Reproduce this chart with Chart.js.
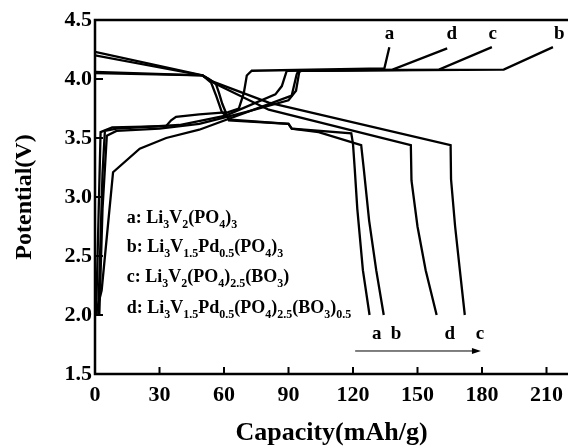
<!DOCTYPE html>
<html>
<head>
<meta charset="utf-8">
<script src="https://cdn.jsdelivr.net/npm/chart.js@4.4.1/dist/chart.umd.min.js"></script>
<style>
  html, body { margin: 0; padding: 0; background: #fff; }
  #wrap { width: 571px; height: 446px; position: relative; }
</style>
</head>
<body>
<div id="wrap"><canvas id="c"></canvas></div>
<script>
// tick values
const capTicks = [0, 30, 60, 90, 120, 150, 180, 210]
const potTicks = [1.5, 2.0, 2.5, 3.0, 3.5, 4.0, 4.5]

// charge curves [capacity, potential]
const chargeA = [[0.5, 2.0], [1.2, 2.5], [2.0, 3.1], [2.6, 3.55], [8, 3.59], [33, 3.6], [35.4, 3.65], [37.7, 3.68], [48.5, 3.7], [62, 3.72], [66.9, 3.75], [69.2, 3.88], [70.6, 4.03], [72.9, 4.07], [134.6, 4.09], [136.9, 4.27]]
const chargeB = [[2.0, 2.0], [3.5, 2.9], [5.5, 3.52], [10, 3.56], [30, 3.58], [48.5, 3.62], [70, 3.72], [90, 3.82], [93.5, 3.9], [95, 4.06], [96, 4.07], [190.1, 4.08], [213, 4.27]]
const chargeC = [[0.3, 2.0], [3.1, 2.21], [8.4, 3.21], [20.8, 3.41], [33.1, 3.5], [48.5, 3.57], [91.5, 3.86], [93.8, 4.04], [94.6, 4.07], [160, 4.08], [184.6, 4.27]]
const chargeD = [[1.5, 2.0], [2.5, 2.6], [3.5, 3.2], [4.6, 3.56], [10, 3.58], [39.2, 3.61], [60.8, 3.69], [83.9, 3.87], [86.9, 3.94], [89.2, 4.07], [138.4, 4.08], [163.8, 4.26]]

// discharge curves
const dischA = [[0, 4.23], [50, 4.03], [53, 4.0], [56.2, 3.96], [57.7, 3.88], [59.2, 3.79], [62.3, 3.65], [90, 3.62], [91.5, 3.58], [119.2, 3.54], [120, 3.45], [120.8, 3.24], [122, 2.9], [124.6, 2.38], [127.7, 2.0]]
const dischB = [[0, 4.2], [50, 4.03], [54, 3.97], [56.5, 3.85], [59, 3.72], [63, 3.655], [90, 3.62], [91.5, 3.58], [104, 3.55], [123.8, 3.44], [125, 3.24], [127.5, 2.8], [130.8, 2.38], [134.3, 2.0]]
const dischC = [[0, 4.06], [50, 4.03], [54.5, 3.98], [80.8, 3.8], [165.4, 3.44], [165.6, 3.15], [167.5, 2.75], [169.7, 2.38], [172, 2.0]]
const dischD = [[0, 4.05], [50, 4.03], [56, 3.96], [80.8, 3.74], [146.9, 3.44], [147.2, 3.14], [150, 2.75], [153.8, 2.38], [158.9, 2.0]]

// curve labels
const topLetters = ['a', 'd', 'c', 'b']
const topLetterCap = [137, 166, 185, 216]
const topLetterPot = 4.39
const endLetters = ['a', 'b', 'd', 'c']
const endLetterCap = [131, 140, 165, 179]
const endLetterPot = 1.85
const arrowCap = [121, 179.5]
const arrowPot = 1.695

// sample names, _{..} = subscript
const sampleNames = [
  'a: Li_{3}V_{2}(PO_{4})_{3}',
  'b: Li_{3}V_{1.5}Pd_{0.5}(PO_{4})_{3}',
  'c: Li_{3}V_{2}(PO_{4})_{2.5}(BO_{3})',
  'd: Li_{3}V_{1.5}Pd_{0.5}(PO_{4})_{2.5}(BO_{3})_{0.5}'
]
const namesCap = 14.8
const namesPot = [2.78, 2.536, 2.28, 2.02]

const FONT = "'Liberation Serif', 'Times New Roman', serif"

const toPts = arr => arr.map(p => ({ x: p[0], y: p[1] }))
const curve = arr => ({
  data: toPts(arr),
  showLine: true,
  borderColor: '#000',
  borderWidth: 2.3,
  pointRadius: 0,
  tension: 0,
  fill: false
})

function drawRich(ctx, text, x, y, size) {
  const parts = text.split(/_\{([^}]*)\}/)
  let cx = x
  parts.forEach((p, i) => {
    if (!p) return
    const sub = i % 2 === 1
    ctx.font = 'bold ' + (sub ? Math.round(size * 0.68) : size) + 'px ' + FONT
    ctx.fillText(p, cx, sub ? y + size * 0.28 : y)
    cx += ctx.measureText(p).width
  })
}

const overlay = {
  id: 'overlay',
  afterDatasetsDraw(chart) {
    const { ctx, chartArea: a, scales: { x, y } } = chart
    ctx.save()
    ctx.strokeStyle = '#000'
    ctx.fillStyle = '#000'

    // frame: left, bottom, top
    ctx.lineWidth = 2.5
    ctx.beginPath()
    ctx.moveTo(a.right, a.top)
    ctx.lineTo(a.left, a.top)
    ctx.lineTo(a.left, a.bottom)
    ctx.lineTo(a.right, a.bottom)
    ctx.stroke()

    // inward ticks
    ctx.lineWidth = 2
    ctx.beginPath()
    capTicks.forEach(v => {
      const px = x.getPixelForValue(v)
      ctx.moveTo(px, a.bottom)
      ctx.lineTo(px, a.bottom - 7)
    })
    potTicks.forEach(v => {
      const py = y.getPixelForValue(v)
      ctx.moveTo(a.left, py)
      ctx.lineTo(a.left + 8, py)
    })
    ctx.stroke()

    // letters
    ctx.textAlign = 'center'
    ctx.textBaseline = 'alphabetic'
    ctx.font = 'bold 19px ' + FONT
    topLetters.forEach((t, i) => {
      ctx.fillText(t, x.getPixelForValue(topLetterCap[i]), y.getPixelForValue(topLetterPot) + 6)
    })
    endLetters.forEach((t, i) => {
      ctx.fillText(t, x.getPixelForValue(endLetterCap[i]), y.getPixelForValue(endLetterPot) + 6)
    })

    // arrow
    const ax0 = x.getPixelForValue(arrowCap[0])
    const ax1 = x.getPixelForValue(arrowCap[1])
    const ay = y.getPixelForValue(arrowPot)
    ctx.lineWidth = 1
    ctx.beginPath()
    ctx.moveTo(ax0, ay)
    ctx.lineTo(ax1 - 6, ay)
    ctx.stroke()
    ctx.beginPath()
    ctx.moveTo(ax1, ay)
    ctx.lineTo(ax1 - 9, ay - 3)
    ctx.lineTo(ax1 - 9, ay + 3)
    ctx.closePath()
    ctx.fill()

    // sample names
    ctx.textAlign = 'left'
    sampleNames.forEach((s, i) => {
      drawRich(ctx, s, x.getPixelForValue(namesCap), y.getPixelForValue(namesPot[i]), 18)
    })
    ctx.restore()
  }
}

new Chart(document.getElementById('c'), {
  type: 'scatter',
  data: {
    datasets: [chargeA, chargeB, chargeC, chargeD, dischA, dischB, dischC, dischD].map(curve)
  },
  options: {
    responsive: true,
    maintainAspectRatio: false,
    animation: false,
    events: [],
    layout: { padding: { top: 20, right: 0, left: 0, bottom: 0 } },
    plugins: { legend: { display: false }, tooltip: { enabled: false } },
    scales: {
      x: {
        type: 'linear',
        min: 0,
        max: 220,
        afterBuildTicks: s => { s.ticks = capTicks.map(v => ({ value: v })) },
        afterFit: s => { s.height = 72 },
        grid: { display: false, drawTicks: false },
        border: { display: false },
        ticks: {
          color: '#000',
          padding: 8,
          maxRotation: 0,
          font: { family: FONT, size: 22, weight: 'bold' }
        },
        title: {
          display: true,
          text: 'Capacity(mAh/g)',
          color: '#000',
          padding: { top: 0, bottom: -3 },
          font: { family: FONT, size: 26, weight: 'bold' }
        }
      },
      y: {
        type: 'linear',
        min: 1.5,
        max: 4.5,
        afterBuildTicks: s => { s.ticks = potTicks.map(v => ({ value: v })) },
        afterFit: s => { s.width = 95 },
        grid: { display: false, drawTicks: false },
        border: { display: false },
        ticks: {
          color: '#000',
          padding: 3,
          callback: v => v.toFixed(1),
          font: { family: FONT, size: 22, weight: 'bold' }
        },
        title: {
          display: true,
          text: 'Potential(V)',
          color: '#000',
          padding: { top: 10, bottom: 0 },
          font: { family: FONT, size: 24, weight: 'bold' }
        }
      }
    }
  },
  plugins: [overlay]
})
</script>
</body>
</html>
